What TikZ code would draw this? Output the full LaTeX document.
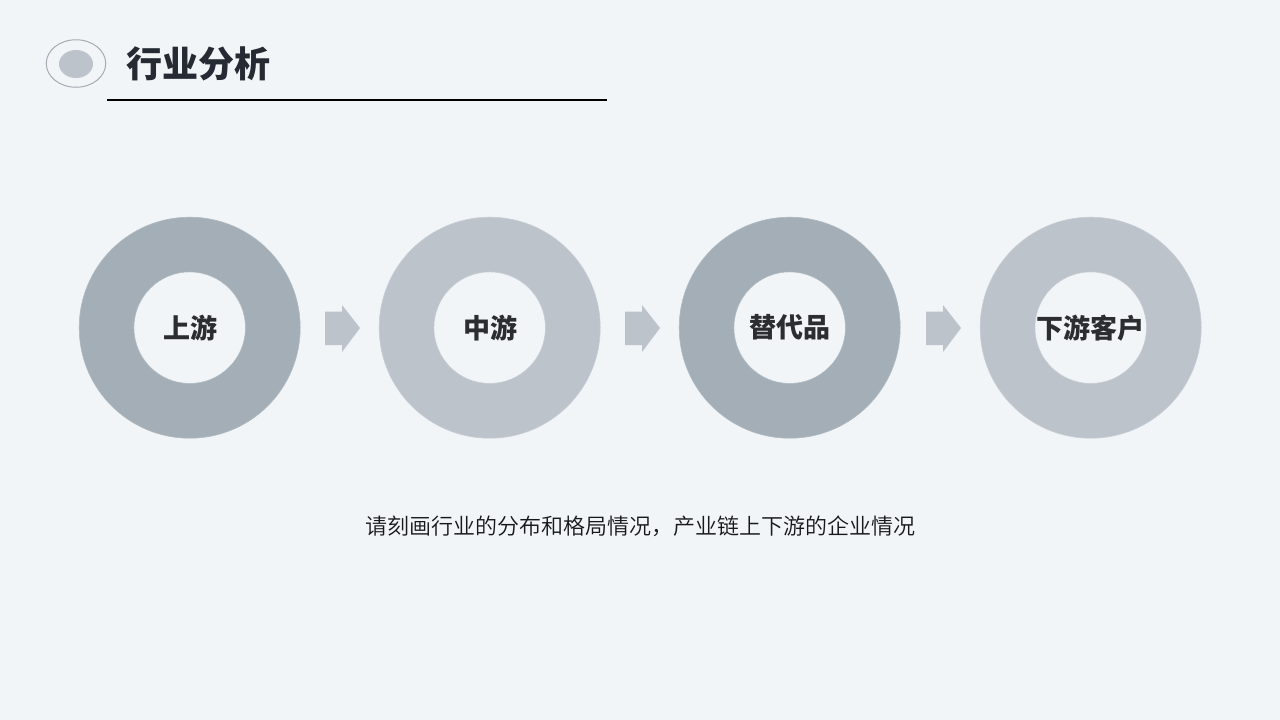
\documentclass[tikz,border=0pt]{standalone}
\usepackage{fontspec}
\usetikzlibrary{shapes.geometric}
\setmainfont{Noto Sans CJK SC}
\newfontfamily\lightcjk[UprightFont={* DemiLight}]{Noto Sans CJK SC}
\definecolor{bg}{HTML}{F1F5F8}
\definecolor{dk}{HTML}{A3AEB6}
\definecolor{lt}{HTML}{BDC3CB}
\definecolor{ttl}{HTML}{252A33}
\definecolor{lab}{HTML}{2B2D30}
\definecolor{desc}{HTML}{17181A}
\tikzset{
 x=1pt,y=-1pt,
 ring/.style={circle,minimum size=221pt,inner sep=0pt,draw=#1!85!white,line width=.6pt,fill=#1},
 hole/.style={circle,minimum size=111.5pt,inner sep=0pt,fill=bg,draw=#1!85!white,line width=.5pt},
 lbl/.style={font=\fontsize{27}{30}\selectfont\bfseries,text=lab,inner sep=0pt},
 arr/.style={fill=lt,draw=none},
}
\newcommand{\chevarrow}[1]{\fill[arr,shift={(#1,328)}] (0,-16.5) -- (17,-16.5) -- (17,-23) -- (35,0) -- (17,24) -- (17,17) -- (0,17) -- cycle;}
\begin{document}
\begin{tikzpicture}
\useasboundingbox (0,0) rectangle (1280,720);
\fill[bg] (0,0) rectangle (1280,720);
% header
\node[ellipse,minimum width=59.5pt,minimum height=47.5pt,inner sep=0pt,draw=black!12!lt,line width=1pt,fill=bg] (hdo) at (76,63.5) {};
\node[ellipse,minimum width=34pt,minimum height=28pt,inner sep=0pt,fill=lt] (hdi) at (76,64) {};
\node[font=\fontsize{36}{40}\selectfont\bfseries,text=ttl,inner sep=0pt] (title) at (198,63.5) {行业分析};
\coordinate (ula) at (107,100);
\coordinate (ulb) at (607,100);
\draw[black,line width=2pt] (ula) -- (ulb);
% rings
\node[ring=dk] (r1) at (189.7,327.7) {};
\node[hole=dk] (h1) at (189.7,327.7) {};
\node[ring=lt] (r2) at (489.7,327.7) {};
\node[hole=lt] (h2) at (489.7,327.7) {};
\node[ring=dk] (r3) at (789.7,327.7) {};
\node[hole=dk] (h3) at (789.7,327.7) {};
\node[ring=lt] (r4) at (1090.7,327.7) {};
\node[hole=lt] (h4) at (1090.7,327.7) {};
\node[lbl] (t1) at (190,327.7) {上游};
\node[lbl] (t2) at (490,327.7) {中游};
\node[lbl] (t3) at (790,327.7) {替代品};
\node[lbl] (t4) at (1090.5,327.7) {下游客户};
\chevarrow{325}
\chevarrow{625}
\chevarrow{926}
\node[font=\fontsize{22}{26}\selectfont\lightcjk,text=desc,inner sep=0pt] (d) at (640,526) {请刻画行业的分布和格局情况，产业链上下游的企业情况};
\end{tikzpicture}
\end{document}
